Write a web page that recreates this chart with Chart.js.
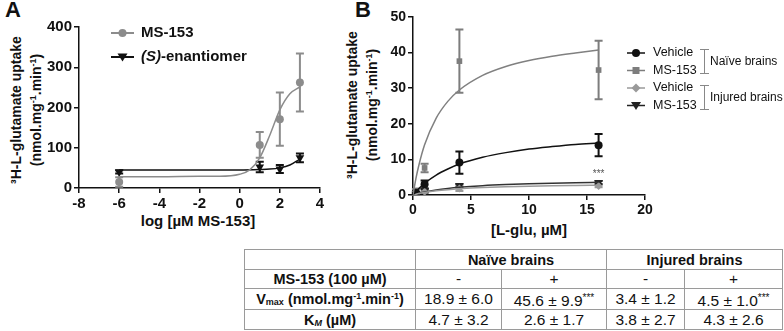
<!DOCTYPE html>
<html>
<head>
<meta charset="utf-8">
<script src="https://cdn.jsdelivr.net/npm/chart.js@4.4.1/dist/chart.umd.min.js"></script>
<style>
body{margin:0;width:784px;height:331px;position:relative;background:#fff;overflow:hidden;
  font-family:"Liberation Sans",Arial,sans-serif;color:#111}
.abs{position:absolute}
.panel{font-weight:bold;font-size:22px}
.ytitle{position:absolute;width:210px;height:40px;line-height:20px;text-align:center;font-weight:bold;font-size:14px;transform:rotate(-90deg)}
.xtitle{position:absolute;font-weight:bold;font-size:15px;text-align:center;width:200px}
sup{font-size:9px;vertical-align:5px;line-height:0}
sub{font-size:9px;vertical-align:-1px;line-height:0}
#tbl{position:absolute;left:244px;top:249px;border-collapse:collapse;table-layout:fixed;width:538px}
#tbl td,#tbl th{border:1px solid #9a9a9a;padding:0;text-align:center;font-size:15.5px;line-height:16px;white-space:nowrap}
#tbl th{font-weight:bold;font-size:14.5px}
#tbl td{font-weight:normal}
#tbl .stars{font-size:10px;vertical-align:5px}
</style>
</head>
<body>
<div class="abs panel" style="left:5px;top:-3px">A</div>
<div class="abs panel" style="left:355px;top:-3px">B</div>

<div class="ytitle" style="left:-79px;top:90px">³H-L-glutamate uptake<br>(nmol.mg<sup>-1</sup>.min<sup>-1</sup>)</div>
<div class="ytitle" style="left:257px;top:85px">³H-L-glutamate uptake<br>(nmol.mg<sup>-1</sup>.min<sup>-1</sup>)</div>
<div class="xtitle" style="left:98px;top:212px">log [µM MS-153]</div>
<div class="xtitle" style="left:429px;top:221px">[L-glu, µM]</div>

<canvas id="chartA" class="abs" width="340" height="215" style="left:0;top:0"></canvas>
<canvas id="chartB" class="abs" width="404" height="218" style="left:380px;top:0"></canvas>

<table id="tbl">
  <colgroup><col style="width:171px"><col style="width:86px"><col style="width:105px"><col style="width:78px"><col style="width:98px"></colgroup>
  <tbody id="tbody"></tbody>
</table>

<script>
// ---- panel A: log dose vs uptake ----
const aDoseX = [-6, 1, 2, 3];
const aMs153 = [15, 107, 171, 262];
const aMs153Err = [12, 32, 66, 72];
const aSEnant = [40, 52, 47, 75];
const aSEnantErr = [4, 13, 10, 11];
// fitted curves
const aMsFitX = [-6, -4, -2, -1, 0, 0.5, 1, 1.5, 2, 2.5, 3];
const aMsFitY = [28, 28, 29, 29, 34, 45, 75, 131, 194, 234, 251];
const aSFitX = [-6, -2, 0, 1, 1.5, 2, 2.5, 3];
const aSFitY = [45, 45, 45, 46, 47, 50, 57, 72];

// ---- panel B: L-glu concentration vs uptake ----
const bGluX = [0.25, 1, 4, 16];
const bNaiveVeh = [0.6, 3.0, 9.1, 14.0];
const bNaiveVehErr = [0.3, 1.1, 3.1, 3.1];
const bNaiveMs = [1.3, 7.6, 37.6, 35.1];
const bNaiveMsErr = [0.4, 1.2, 8.9, 8.2];
const bInjVeh = [0.3, 0.9, 1.8, 2.5];
const bInjVehErr = [0.2, 0.3, 0.7, 0.3];
const bInjMs = [0.4, 1.2, 2.6, 3.5];
const bInjMsErr = [0.2, 0.5, 0.5, 0.4];
const bFitX = [0, 0.25, 0.5, 1, 2, 3, 4, 6, 8, 10, 12, 14, 16];
const bNaiveVehFit = [0, 0.95, 1.8, 3.3, 5.6, 7.3, 8.7, 10.6, 11.9, 12.9, 13.6, 14.2, 14.6];
const bNaiveMsFit = [0, 4.6, 8.3, 14.1, 21.6, 26.3, 29.5, 33.6, 36.1, 37.8, 39.0, 39.9, 40.7];
const bInjVehFit = [0, 0.21, 0.4, 0.7, 1.17, 1.5, 1.74, 2.08, 2.3, 2.46, 2.58, 2.67, 2.75];
const bInjMsFit = [0, 0.25, 0.47, 0.85, 1.43, 1.85, 2.17, 2.62, 2.93, 3.15, 3.31, 3.44, 3.55];

// ---- table ----
const tblGroups = ['Naïve brains', 'Injured brains'];
const tblMs153 = ['-', '+', '-', '+'];
const tblVmax = ['18.9 ± 6.0', '45.6 ± 9.9***', '3.4 ± 1.2', '4.5 ± 1.0***'];
const tblKm = ['4.7 ± 3.2', '2.6 ± 1.7', '3.8 ± 2.7', '4.3 ± 2.6'];

const FONT = '"Liberation Sans", Arial, sans-serif';
const pts = (xs, ys) => xs.map((x, i) => ({x: x, y: ys[i]}));

function cells(arr) {
  return arr.map(v => '<td>' + v.replace('***', '<span class="stars">***</span>') + '</td>').join('');
}
document.getElementById('tbody').innerHTML =
  '<tr style="height:20px"><td></td><th colspan="2">' + tblGroups[0] + '</th><th colspan="2">' + tblGroups[1] + '</th></tr>' +
  '<tr style="height:19px"><th>MS-153 (100 µM)</th>' + cells(tblMs153) + '</tr>' +
  '<tr style="height:21px"><th>V<sub>max</sub> (nmol.mg<sup>-1</sup>.min<sup>-1</sup>)</th>' + cells(tblVmax) + '</tr>' +
  '<tr style="height:20px"><th>K<sub><i>M</i></sub> (µM)</th>' + cells(tblKm) + '</tr>';

function drawMarker(ctx, style, x, y, r, color) {
  ctx.save();
  ctx.fillStyle = color;
  ctx.beginPath();
  if (style === 'circle') {
    ctx.arc(x, y, r, 0, Math.PI * 2);
  } else if (style === 'rect') {
    ctx.rect(x - r, y - r, 2 * r, 2 * r);
  } else if (style === 'rectRot') {
    ctx.moveTo(x, y - r - 1); ctx.lineTo(x + r + 1, y); ctx.lineTo(x, y + r + 1); ctx.lineTo(x - r - 1, y);
  } else {
    ctx.moveTo(x - r, y - r * 0.7); ctx.lineTo(x + r, y - r * 0.7); ctx.lineTo(x, y + r * 0.9);
  }
  ctx.closePath();
  ctx.fill();
  ctx.restore();
}

const errorBars = {
  id: 'errorBars',
  beforeDatasetsDraw(chart) {
    const {ctx, scales: {x, y}} = chart;
    chart.data.datasets.forEach(ds => {
      if (!ds.err) return;
      ctx.save();
      ctx.strokeStyle = ds.pointBackgroundColor;
      ctx.lineWidth = 2;
      ds.data.forEach((p, i) => {
        const e = ds.err[i];
        if (!e) return;
        const px = x.getPixelForValue(p.x);
        const top = y.getPixelForValue(p.y + e);
        const bot = y.getPixelForValue(Math.max(0, p.y - e));
        ctx.beginPath();
        ctx.moveTo(px, top); ctx.lineTo(px, bot);
        ctx.moveTo(px - 4, top); ctx.lineTo(px + 4, top);
        ctx.moveTo(px - 4, bot); ctx.lineTo(px + 4, bot);
        ctx.stroke();
      });
      ctx.restore();
    });
  }
};

function fitLine(xs, ys, color, width) {
  return {type: 'line', data: pts(xs, ys), borderColor: color, borderWidth: width || 1.5,
    pointRadius: 0, fill: false, cubicInterpolationMode: 'monotone'};
}
function marks(xs, ys, err, color, style, r, rot) {
  return {type: 'scatter', data: pts(xs, ys), err: err, showLine: false,
    pointStyle: style, pointRadius: r, pointRotation: rot || 0,
    pointBackgroundColor: color, pointBorderColor: color, pointBorderWidth: 0};
}
function axis(min, max, step, size, fit) {
  return {
    type: 'linear', min: min, max: max,
    ticks: {stepSize: step, color: '#111', padding: 2, font: {family: FONT, size: size, weight: 'bold'}},
    grid: {drawOnChartArea: false, drawTicks: true, tickLength: 5, color: '#111', lineWidth: 1.5},
    border: {color: '#111', width: 1.5},
    afterFit: fit
  };
}

// legend for panel A
const legendA = {
  id: 'legendA',
  afterDraw(chart) {
    const ctx = chart.ctx;
    const rows = [
      {y: 33, color: '#8c8c8c', style: 'circle', r: 4},
      {y: 57, color: '#111', style: 'triangle', r: 5}
    ];
    rows.forEach(rw => {
      ctx.save();
      ctx.strokeStyle = rw.color; ctx.lineWidth = 2;
      ctx.beginPath(); ctx.moveTo(111, rw.y); ctx.lineTo(134, rw.y); ctx.stroke();
      ctx.restore();
      drawMarker(ctx, rw.style, 122.5, rw.y, rw.r, rw.color);
    });
    ctx.save();
    ctx.fillStyle = '#111';
    ctx.textBaseline = 'middle';
    ctx.font = 'bold 15px ' + FONT;
    ctx.fillText('MS-153', 141, 33);
    ctx.font = 'italic bold 15px ' + FONT;
    ctx.fillText('(S)', 141, 57);
    const w = ctx.measureText('(S)').width;
    ctx.font = 'bold 15px ' + FONT;
    ctx.fillText('-enantiomer', 141 + w, 57);
    ctx.restore();
  }
};

// legend + annotation for panel B (canvas starts at x=380)
const legendB = {
  id: 'legendB',
  afterDraw(chart) {
    const ctx = chart.ctx;
    const {x, y} = chart.scales;
    const rows = [
      {y: 53, color: '#111', style: 'circle', r: 4, label: 'Vehicle'},
      {y: 70.5, color: '#7d7d7d', style: 'rect', r: 3.5, label: 'MS-153'},
      {y: 88, color: '#9a9a9a', style: 'rectRot', r: 3.5, label: 'Vehicle'},
      {y: 105.5, color: '#222', style: 'triangle', r: 5, label: 'MS-153'}
    ];
    ctx.save();
    ctx.textBaseline = 'middle';
    ctx.font = '12.5px ' + FONT;
    rows.forEach(rw => {
      ctx.strokeStyle = rw.color; ctx.lineWidth = 1.5;
      ctx.beginPath(); ctx.moveTo(247, rw.y); ctx.lineTo(265, rw.y); ctx.stroke();
      drawMarker(ctx, rw.style, 256, rw.y, rw.r, rw.color);
      ctx.fillStyle = '#111';
      ctx.fillText(rw.label, 273, rw.y);
    });
    ctx.strokeStyle = '#888'; ctx.lineWidth = 1;
    [[49, 74], [85, 110]].forEach(b => {
      ctx.beginPath();
      ctx.moveTo(324.5, b[0]); ctx.lineTo(324.5, b[1]);
      ctx.moveTo(320, b[0] + 0.5); ctx.lineTo(329, b[0] + 0.5);
      ctx.moveTo(320, b[1] - 0.5); ctx.lineTo(329, b[1] - 0.5);
      ctx.stroke();
    });
    ctx.fillStyle = '#111';
    ctx.font = '12px ' + FONT;
    ctx.fillText('Naïve brains', 330, 61.5);
    ctx.fillText('Injured brains', 330, 97.5);
    // significance stars above the last injured MS-153 point
    ctx.fillStyle = '#555';
    ctx.font = '10px ' + FONT;
    ctx.textAlign = 'center';
    ctx.fillText('***', x.getPixelForValue(16), y.getPixelForValue(5.9));
    ctx.restore();
  }
};

new Chart(document.getElementById('chartA'), {
  data: {
    datasets: [
      fitLine(aMsFitX, aMsFitY, '#8c8c8c', 1.5),
      fitLine(aSFitX, aSFitY, '#111', 1.5),
      marks(aDoseX, aMs153, aMs153Err, '#8c8c8c', 'circle', 4),
      marks(aDoseX, aSEnant, aSEnantErr, '#111', 'triangle', 5, 180)
    ]
  },
  options: {
    responsive: false,
    animation: false,
    layout: {padding: {left: 0, top: 27, right: 20, bottom: 0}},
    plugins: {legend: {display: false}, tooltip: {enabled: false}},
    scales: {
      x: axis(-8, 4, 2, 15, s => { s.height = 27; }),
      y: axis(0, 400, 100, 15, s => { s.width = 79; })
    }
  },
  plugins: [errorBars, legendA]
});

new Chart(document.getElementById('chartB'), {
  data: {
    datasets: [
      fitLine(bFitX, bNaiveMsFit, '#808080', 1.5),
      fitLine(bFitX, bNaiveVehFit, '#111', 1.5),
      fitLine(bFitX, bInjVehFit, '#9a9a9a', 1.5),
      fitLine(bFitX, bInjMsFit, '#333', 1.5),
      marks(bGluX, bNaiveVeh, bNaiveVehErr, '#111', 'circle', 4),
      marks(bGluX, bNaiveMs, bNaiveMsErr, '#7d7d7d', 'rect', 4),
      marks(bGluX, bInjVeh, bInjVehErr, '#9a9a9a', 'rectRot', 4),
      marks(bGluX, bInjMs, bInjMsErr, '#222', 'triangle', 5, 180)
    ]
  },
  options: {
    responsive: false,
    animation: false,
    layout: {padding: {left: 0, top: 17, right: 139, bottom: 0}},
    plugins: {legend: {display: false}, tooltip: {enabled: false}},
    scales: {
      x: axis(0, 20, 5, 14, s => { s.height = 23; }),
      y: axis(0, 50, 10, 14, s => { s.width = 33; })
    }
  },
  plugins: [errorBars, legendB]
});
</script>
</body>
</html>
